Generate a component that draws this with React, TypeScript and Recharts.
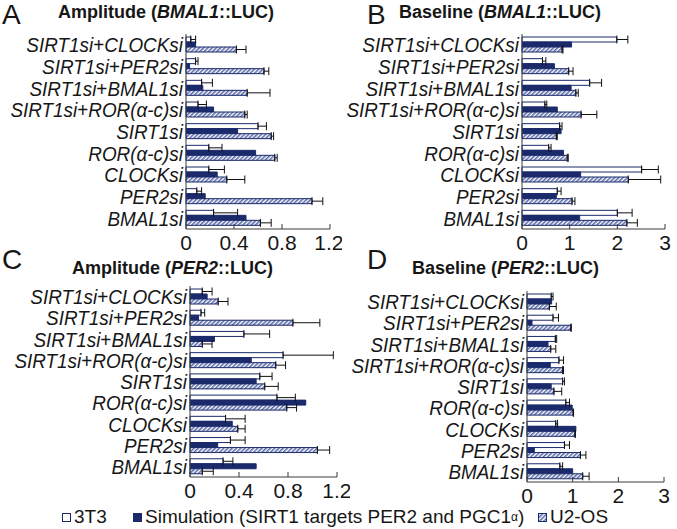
import React from "react";
import { Bar, BarChart, ErrorBar, XAxis, YAxis } from "recharts";

const FONT = '"Liberation Sans", Arial, sans-serif';
const NAVY = "#1b2a6b";

const categories = [
  "SIRT1si+CLOCKsi",
  "SIRT1si+PER2si",
  "SIRT1si+BMAL1si",
  "SIRT1si+ROR(α-c)si",
  "SIRT1si",
  "ROR(α-c)si",
  "CLOCKsi",
  "PER2si",
  "BMAL1si"
];

// A: amplitude, BMAL1::LUC
const ampBmal3T3 = [0.04, 0.08, 0.13, 0.1, 0.6, 0.19, 0.19, 0.09, 0.23];
const ampBmal3T3Err = [0.04, 0.02, 0.09, 0.07, 0.07, 0.11, 0.13, 0.04, 0.2];
const ampBmalSim = [0.08, 0.03, 0.14, 0.23, 0.43, 0.58, 0.26, 0.16, 0.5];
const ampBmalU2os = [0.42, 0.65, 0.51, 0.49, 0.71, 0.74, 0.34, 1.05, 0.62];
const ampBmalU2osErr = [0.08, 0.04, 0.19, 0.02, 0.02, 0.02, 0.15, 0.09, 0.09];

// B: baseline, BMAL1::LUC
const baseBmal3T3 = [1.99, 0.43, 1.42, 0.48, 0.79, 0.56, 2.51, 0.74, 2.0];
const baseBmal3T3Err = [0.23, 0.07, 0.25, 0.04, 0.05, 0.05, 0.35, 0.08, 0.31];
const baseBmalSim = [1.04, 0.68, 1.03, 0.74, 0.82, 0.87, 1.23, 0.72, 1.21];
const baseBmalU2os = [0.84, 0.98, 1.13, 1.24, 0.72, 0.95, 2.23, 1.05, 2.2];
const baseBmalU2osErr = [0.02, 0.09, 0.05, 0.33, 0.02, 0.02, 0.68, 0.06, 0.22];

// C: amplitude, PER2::LUC
const ampPer3T3 = [0.1, 0.09, 0.44, 0.76, 0.57, 0.71, 0.29, 0.33, 0.27];
const ampPer3T3Err = [0.08, 0.03, 0.21, 0.41, 0.1, 0.15, 0.16, 0.12, 0.08];
const ampPerSim = [0.14, 0.07, 0.2, 0.5, 0.54, 0.945, 0.345, 0.226, 0.54];
const ampPerU2os = [0.23, 0.84, 0.1, 0.7, 0.61, 0.79, 0.39, 1.04, 0.1];
const ampPerU2osErr = [0.08, 0.22, 0.08, 0.08, 0.11, 0.08, 0.06, 0.1, 0.09];

// D: baseline, PER2::LUC
const basePer3T3 = [0.53, 0.57, 0.62, 0.7, 0.78, 0.85, 0.63, 0.82, 0.72];
const basePer3T3Err = [0.04, 0.12, 0.03, 0.1, 0.04, 0.08, 0.04, 0.11, 0.06];
const basePerSim = [0.54, 0.11, 0.46, 0.51, 0.53, 0.99, 1.07, 0.16, 1.0];
const basePerU2os = [0.49, 0.96, 0.52, 0.78, 0.59, 1.01, 1.05, 1.17, 1.22];
const basePerU2osErr = [0.15, 0.01, 0.11, 0.02, 0.17, 0.01, 0.01, 0.12, 0.14];

const amplitudeTicks = [0, 0.4, 0.8, 1.2];
const baselineTicks = [0, 1, 2, 3];

function buildRows(t3: number[], t3Err: number[], sim: number[], u2: number[], u2Err: number[]) {
  return categories.map((name, i) => ({
    name,
    t3: t3[i],
    t3e: [0, t3Err[i]],
    sim: sim[i],
    u2: u2[i],
    u2e: [0, u2Err[i]]
  }));
}

// labels in the figure are tall and a bit narrow, so squeeze them horizontally
function CategoryTick({ x, y, payload }: any) {
  const parts = String(payload.value).split("+");
  return (
    <g transform={`translate(${x},${y}) scale(0.9,1)`}>
      <text x={0} y={0} dy="0.36em" textAnchor="end" fontSize={21} fontFamily={FONT} fill="#161616">
        {parts.map((p, i) => (
          <React.Fragment key={i}>
            {i > 0 ? <tspan fontStyle="normal">+</tspan> : null}
            <tspan fontStyle="italic">{p}</tspan>
          </React.Fragment>
        ))}
      </text>
    </g>
  );
}

interface PanelProps {
  id: string;
  rows: ReturnType<typeof buildRows>;
  ticks: number[];
  left: number;
  top: number;
  width: number;
  height: number;
  marginTop: number;
  marginRight: number;
  yWidth: number;
}

function Panel({ id, rows, ticks, left, top, width, height, marginTop, marginRight, yWidth }: PanelProps) {
  return (
    <div style={{ position: "absolute", left, top }}>
      <BarChart
        width={width}
        height={height}
        data={rows}
        layout="vertical"
        barGap={0}
        barSize={5}
        margin={{ top: marginTop, right: marginRight, bottom: 0, left: 0 }}
      >
        <defs>
          <pattern id={`hatch-${id}`} width={3} height={3} patternUnits="userSpaceOnUse" patternTransform="rotate(45)">
            <rect width={3} height={3} fill="#ffffff" />
            <rect width={1.6} height={3} fill="#5b6ba9" />
          </pattern>
        </defs>
        <XAxis
          type="number"
          domain={[ticks[0], ticks[ticks.length - 1]]}
          ticks={ticks}
          height={36}
          tickSize={-5}
          tickMargin={11}
          stroke="#3a3a3a"
          tick={{ fontSize: 21, fill: "#161616", fontFamily: FONT }}
        />
        <YAxis
          type="category"
          dataKey="name"
          width={yWidth}
          tickLine={false}
          tickSize={0}
          tickMargin={3}
          stroke="#3a3a3a"
          interval={0}
          tick={<CategoryTick />}
        />
        <Bar dataKey="t3" fill="#ffffff" stroke={NAVY} strokeWidth={1} isAnimationActive={false}>
          <ErrorBar dataKey="t3e" direction="x" width={4} stroke="#111" strokeWidth={1} />
        </Bar>
        <Bar dataKey="sim" fill={NAVY} stroke={NAVY} strokeWidth={1} isAnimationActive={false} />
        <Bar dataKey="u2" fill={`url(#hatch-${id})`} stroke={NAVY} strokeWidth={1} isAnimationActive={false}>
          <ErrorBar dataKey="u2e" direction="x" width={4} stroke="#111" strokeWidth={1} />
        </Bar>
      </BarChart>
    </div>
  );
}

const letterStyle: React.CSSProperties = {
  position: "absolute",
  fontFamily: FONT,
  fontSize: 28,
  lineHeight: "28px",
  color: "#161616"
};

const titleStyle: React.CSSProperties = {
  position: "absolute",
  fontFamily: FONT,
  fontSize: 18,
  fontWeight: 700,
  lineHeight: "20px",
  color: "#161616",
  whiteSpace: "nowrap"
};

const legendText: React.CSSProperties = {
  position: "absolute",
  fontFamily: FONT,
  fontSize: 19,
  lineHeight: "20px",
  color: "#161616",
  whiteSpace: "nowrap",
  display: "flex",
  alignItems: "center"
};

function Swatch({ kind }: { kind: "white" | "navy" | "hatch" }) {
  return (
    <svg width={9} height={9} style={{ marginRight: 3 }}>
      <defs>
        <pattern id="hatch-legend" width={3} height={3} patternUnits="userSpaceOnUse" patternTransform="rotate(45)">
          <rect width={3} height={3} fill="#ffffff" />
          <rect width={1.6} height={3} fill="#5b6ba9" />
        </pattern>
      </defs>
      <rect
        x={0.5}
        y={0.5}
        width={8}
        height={8}
        fill={kind === "white" ? "#ffffff" : kind === "navy" ? NAVY : "url(#hatch-legend)"}
        stroke={NAVY}
        strokeWidth={1}
      />
    </svg>
  );
}

export default function App() {
  return (
    <div style={{ position: "absolute", left: 0, top: 0, width: 677, height: 529, background: "#fff", overflow: "hidden" }}>
      <Panel
        id="a"
        rows={buildRows(ampBmal3T3, ampBmal3T3Err, ampBmalSim, ampBmalU2os, ampBmalU2osErr)}
        ticks={amplitudeTicks}
        left={0}
        top={0}
        width={342}
        height={265}
        marginTop={34}
        marginRight={12}
        yWidth={186}
      />
      <Panel
        id="b"
        rows={buildRows(baseBmal3T3, baseBmal3T3Err, baseBmalSim, baseBmalU2os, baseBmalU2osErr)}
        ticks={baselineTicks}
        left={337}
        top={0}
        width={340}
        height={265}
        marginTop={34}
        marginRight={12}
        yWidth={185}
      />
      <Panel
        id="c"
        rows={buildRows(ampPer3T3, ampPer3T3Err, ampPerSim, ampPerU2os, ampPerU2osErr)}
        ticks={amplitudeTicks}
        left={0}
        top={255}
        width={350}
        height={258}
        marginTop={31}
        marginRight={13}
        yWidth={190}
      />
      <Panel
        id="d"
        rows={buildRows(basePer3T3, basePer3T3Err, basePerSim, basePerU2os, basePerU2osErr)}
        ticks={baselineTicks}
        left={337}
        top={255}
        width={340}
        height={263}
        marginTop={36}
        marginRight={13}
        yWidth={190}
      />

      <div style={{ ...letterStyle, left: 2, top: 1 }}>A</div>
      <div style={{ ...titleStyle, left: 58, top: 2 }}>
        Amplitude (<i>BMAL1</i>::LUC)
      </div>
      <div style={{ ...letterStyle, left: 367, top: 1 }}>B</div>
      <div style={{ ...titleStyle, left: 399, top: 2 }}>
        Baseline (<i>BMAL1</i>::LUC)
      </div>
      <div style={{ ...letterStyle, left: 2, top: 246 }}>C</div>
      <div style={{ ...titleStyle, left: 72, top: 258 }}>
        Amplitude (<i>PER2</i>::LUC)
      </div>
      <div style={{ ...letterStyle, left: 367, top: 246 }}>D</div>
      <div style={{ ...titleStyle, left: 412, top: 258 }}>
        Baseline (<i>PER2</i>::LUC)
      </div>

      <div style={{ ...legendText, left: 62, top: 507 }}>
        <Swatch kind="white" />
        3T3
      </div>
      <div style={{ ...legendText, left: 133, top: 507 }}>
        <Swatch kind="navy" />
        Simulation (SIRT1 targets PER2 and PGC1<sub style={{ fontSize: 12, lineHeight: 0 }}>α</sub>)
      </div>
      <div style={{ ...legendText, left: 538, top: 507 }}>
        <Swatch kind="hatch" />
        U2-OS
      </div>
    </div>
  );
}
